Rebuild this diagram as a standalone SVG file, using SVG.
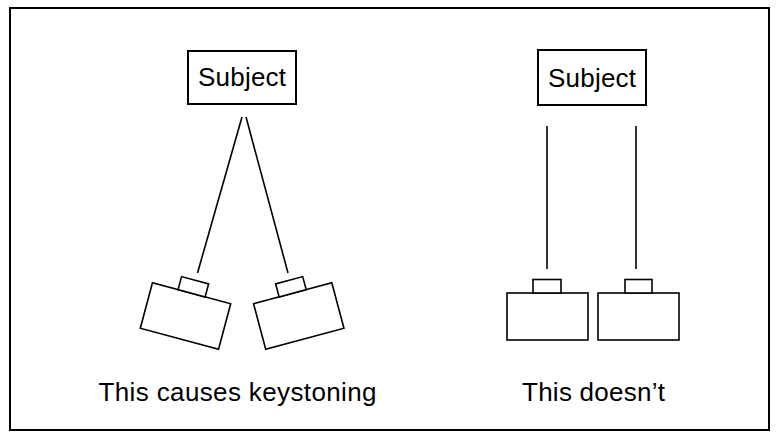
<svg xmlns="http://www.w3.org/2000/svg" width="779" height="438" viewBox="0 0 779 438">
<style>
.box{fill:#fff;stroke:#000;stroke-width:2}
.cam{fill:#fff;stroke:#000;stroke-width:1.6}
.ln{stroke:#000;stroke-width:1.6;fill:none}
text{font-family:"Liberation Sans",Arial,Helvetica,sans-serif;fill:#000;text-anchor:middle}
.lbl{font-size:26px}
.cap{font-size:26px}
</style>
<rect x="10" y="8" width="759" height="422" fill="#fff" stroke="#000" stroke-width="2"/>
<g id="subject-left">
<rect class="box" x="188" y="51" width="108" height="53"/>
<text class="lbl" x="242" y="86" textLength="88" lengthAdjust="spacing">Subject</text>
</g>
<g id="subject-right">
<rect class="box" x="538" y="50" width="108" height="55"/>
<text class="lbl" x="592" y="87" textLength="88" lengthAdjust="spacing">Subject</text>
</g>
<g id="camera-left-1" transform="translate(185.5,316) rotate(15)">
<rect class="cam" x="-40.5" y="-23.5" width="81" height="47"/>
<rect class="cam" x="-14" y="-37" width="28" height="13.5"/>
</g>
<g id="camera-left-2" transform="translate(298.75,316) rotate(-15)">
<rect class="cam" x="-40.5" y="-23.5" width="81" height="47"/>
<rect class="cam" x="-14" y="-37" width="28" height="13.5"/>
</g>
<g id="camera-right-1">
<rect class="cam" x="507" y="293" width="81" height="47"/>
<rect class="cam" x="533" y="279.5" width="28" height="13.5"/>
</g>
<g id="camera-right-2">
<rect class="cam" x="598" y="293" width="81" height="47"/>
<rect class="cam" x="625" y="279.5" width="27" height="13.5"/>
</g>
<g id="connectors">
<line class="ln" x1="242" y1="117" x2="197.5" y2="273"/>
<line class="ln" x1="246" y1="117" x2="288" y2="273"/>
<line class="ln" x1="547" y1="126" x2="547" y2="269"/>
<line class="ln" x1="636" y1="126" x2="636" y2="269"/>
</g>
<text class="cap" x="237.5" y="401" textLength="278" lengthAdjust="spacing">This causes keystoning</text>
<text class="cap" x="593.5" y="401" textLength="143" lengthAdjust="spacing">This doesn’t</text>
</svg>
